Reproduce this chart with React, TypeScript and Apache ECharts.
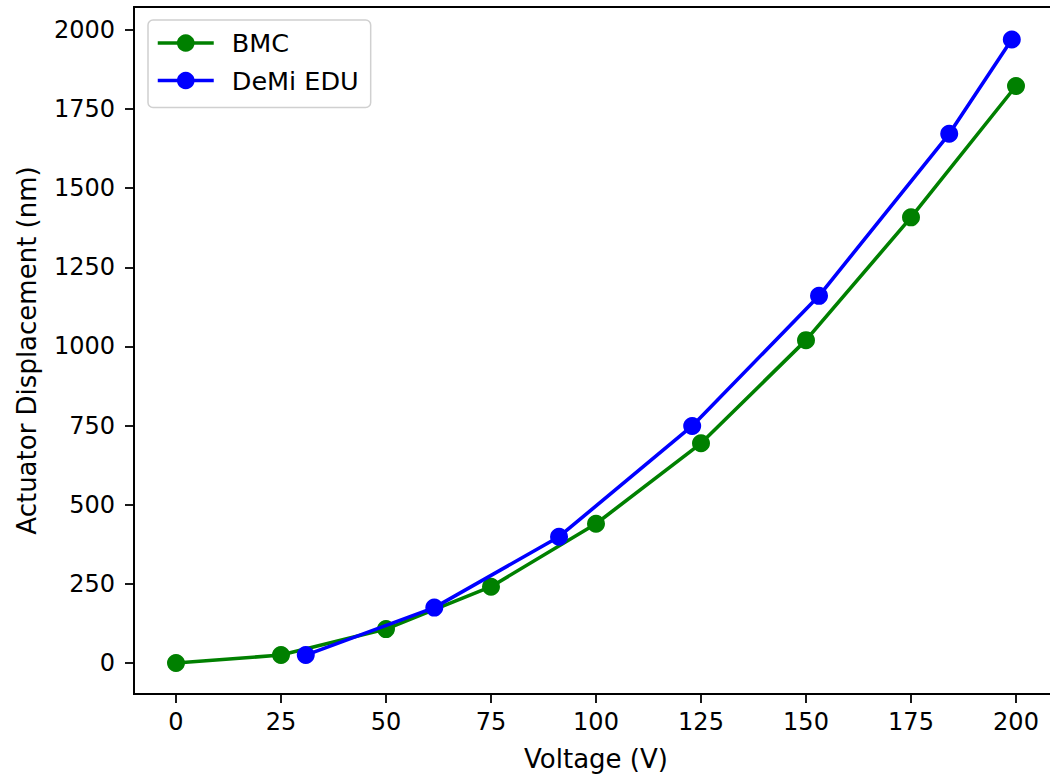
import React, { useEffect, useRef } from "react";
import * as echarts from "echarts";

const bmcVoltage = [0, 25, 50, 75, 100, 125, 150, 175, 200];
const bmcDisplacement = [0, 25, 107, 241, 440, 694, 1020, 1408, 1823];
const demiVoltage = [30.9, 61.5, 91.2, 122.9, 153.1, 184.1, 199.0];
const demiDisplacement = [25, 175, 399, 749, 1160, 1672, 1970];
const xTicks = [0, 25, 50, 75, 100, 125, 150, 175, 200];
const yTicks = [0, 250, 500, 750, 1000, 1250, 1500, 1750, 2000];

const FONT = "DejaVu Sans";

export default function App() {
  const ref = useRef<HTMLDivElement>(null);
  useEffect(() => {
    if (!ref.current) return;
    const chart = echarts.init(ref.current, undefined, { renderer: "svg" });
    const axisCommon = {
      axisLine: { show: true, onZero: false, lineStyle: { color: "#000", width: 1.8 } },
      axisTick: { show: true, length: 9, lineStyle: { color: "#000", width: 1.8 } },
      splitLine: { show: false },
      nameTextStyle: { color: "#000", fontFamily: FONT, fontSize: 26 },
    };
    chart.setOption({
      animation: false,
      backgroundColor: "#fff",
      grid: {
        left: 134,
        top: 7,
        width: 924,
        height: 687,
        show: true,
        borderColor: "#000",
        borderWidth: 1.8,
        containLabel: false,
        outerBoundsMode: "none",
      },
      legend: {
        orient: "vertical",
        left: 148,
        top: 20,
        itemWidth: 56,
        itemHeight: 22,
        itemGap: 11.5,
        padding: [10, 12, 14, 8],
        backgroundColor: "#fff",
        borderColor: "#d0d0d0",
        borderWidth: 1.5,
        borderRadius: 5,
        lineStyle: { width: 3.5 },
        textStyle: {
          color: "#000",
          fontFamily: FONT,
          fontSize: 25.5,
          lineHeight: 22,
          padding: [0, 0, 0, 13],
        },
        data: ["BMC", "DeMi EDU"],
      },
      xAxis: {
        type: "value",
        min: -10,
        max: 210,
        name: "Voltage (V)",
        nameLocation: "middle",
        nameGap: 52,
        ...axisCommon,
        axisTick: { ...axisCommon.axisTick, customValues: xTicks },
        axisLabel: {
          customValues: xTicks,
          formatter: (v: number) => String(v),
          color: "#000",
          fontFamily: FONT,
          fontSize: 24,
          margin: 16,
        },
      },
      yAxis: {
        type: "value",
        min: -98,
        max: 2072.6,
        name: "Actuator Displacement (nm)",
        nameLocation: "middle",
        nameGap: 94,
        ...axisCommon,
        axisTick: { ...axisCommon.axisTick, customValues: yTicks },
        axisLabel: {
          customValues: yTicks,
          formatter: (v: number) => String(v),
          color: "#000",
          fontFamily: FONT,
          fontSize: 24,
          margin: 19,
        },
      },
      series: [
        {
          name: "BMC",
          type: "line",
          data: bmcVoltage.map((v, i) => [v, bmcDisplacement[i]]),
          symbol: "circle",
          symbolSize: 18,
          showSymbol: true,
          lineStyle: { color: "#008000", width: 3.6 },
          itemStyle: { color: "#008000" },
          z: 2,
        },
        {
          name: "DeMi EDU",
          type: "line",
          data: demiVoltage.map((v, i) => [v, demiDisplacement[i]]),
          symbol: "circle",
          symbolSize: 18,
          showSymbol: true,
          lineStyle: { color: "#0000ff", width: 3.6 },
          itemStyle: { color: "#0000ff" },
          z: 3,
        },
      ],
    });
    return () => chart.dispose();
  }, []);
  return (
    <div
      ref={ref}
      style={{ position: "absolute", left: 0, top: 0, width: 1050, height: 776 }}
    />
  );
}
